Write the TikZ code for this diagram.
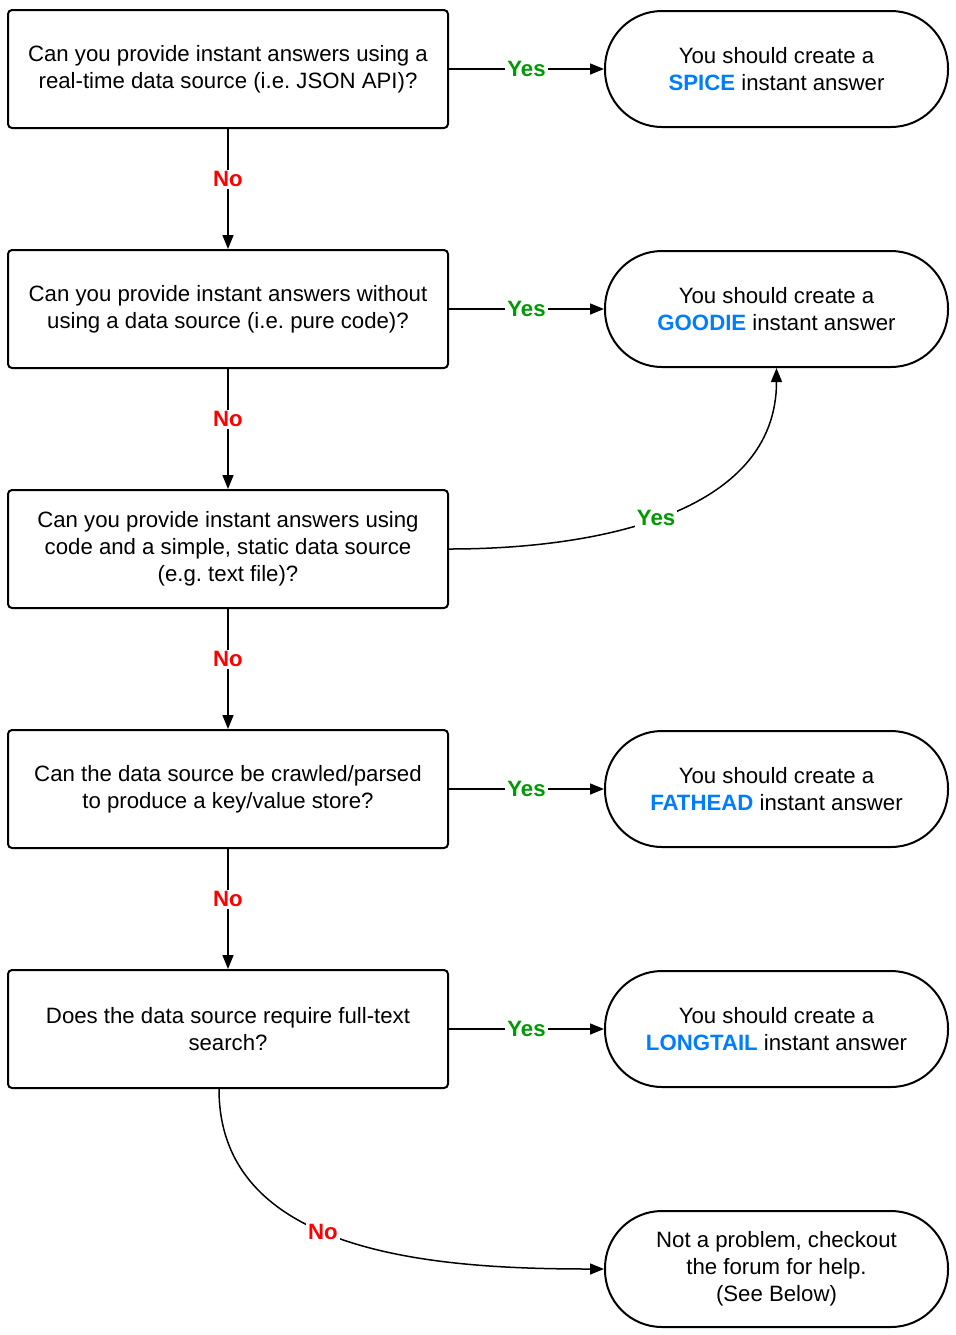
\documentclass[tikz,border=0pt]{standalone}
\usepackage{fontspec}
\setmainfont{Liberation Sans}
\usetikzlibrary{arrows.meta,positioning}
\definecolor{yesgreen}{RGB}{0,153,0}
\definecolor{nored}{RGB}{255,0,0}
\definecolor{iablue}{RGB}{0,125,255}
\frenchspacing

\begin{document}
\begin{tikzpicture}[x=0.5pt, y=-0.5pt,
    font=\fontsize{11.1pt}{13.5pt}\selectfont,
    question/.style={draw, line width=1pt, rounded corners=2pt, minimum width=220pt, minimum height=59pt, align=center, inner sep=0pt},
    answer/.style={draw, line width=1pt, rounded corners=28.5pt, minimum width=171.5pt, minimum height=58pt, align=center, inner sep=0pt},
    flow/.style={line width=0.75pt, -{Triangle[length=7pt,width=5.5pt]}},
    yes/.style={fill=white, inner sep=1pt, text=yesgreen, font=\fontsize{11.1pt}{13.5pt}\selectfont\bfseries},
    no/.style={fill=white, inner sep=1pt, text=nored, font=\fontsize{11.1pt}{13.5pt}\selectfont\bfseries, pos=0.42}]
    \useasboundingbox (0,0) rectangle (955,1335);

    % Questions
    \node[question] (q1) at (228,69) {Can you provide instant answers using a\\real-time data source (i.e. JSON API)?};
    \node[question] (q2) at (228,309) {Can you provide instant answers without\\using a data source (i.e. pure code)?};
    \node[question] (q3) at (228,549) {Can you provide instant answers using\\code and a simple, static data source\\(e.g. text file)?};
    \node[question] (q4) at (228,789) {Can the data source be crawled/parsed\\to produce a key/value store?};
    \node[question] (q5) at (228,1029) {Does the data source require full-text\\search?};

    % Answers
    \node[answer] (spice) at (776.5,69) {You should create a\\\textcolor{iablue}{\textbf{SPICE}} instant answer};
    \node[answer] (goodie) at (776.5,309) {You should create a\\\textcolor{iablue}{\textbf{GOODIE}} instant answer};
    \node[answer] (fathead) at (776.5,789) {You should create a\\\textcolor{iablue}{\textbf{FATHEAD}} instant answer};
    \node[answer] (longtail) at (776.5,1029) {You should create a\\\textcolor{iablue}{\textbf{LONGTAIL}} instant answer};
    \node[answer] (forum) at (776.5,1269) {Not a problem, checkout\\the forum for help.\\(See Below)};

    % Yes branches
    \draw[flow] (q1) -- node[yes] {Yes} (spice);
    \draw[flow] (q2) -- node[yes] {Yes} (goodie);
    \draw[flow] (q3.east) to[out=0, in=-90] node[yes, pos=0.47] {Yes} (goodie.south);
    \draw[flow] (q4) -- node[yes] {Yes} (fathead);
    \draw[flow] (q5) -- node[yes] {Yes} (longtail);

    % No branches
    \draw[flow] (q1) -- node[no] {No} (q2);
    \draw[flow] (q2) -- node[no] {No} (q3);
    \draw[flow] (q3) -- node[no] {No} (q4);
    \draw[flow] (q4) -- node[no] {No} (q5);
    \draw[flow] ([xshift=-4.5pt]q5.south) to[out=-90, in=180] node[no, pos=0.44] {No} (forum.west);
\end{tikzpicture}
\end{document}
